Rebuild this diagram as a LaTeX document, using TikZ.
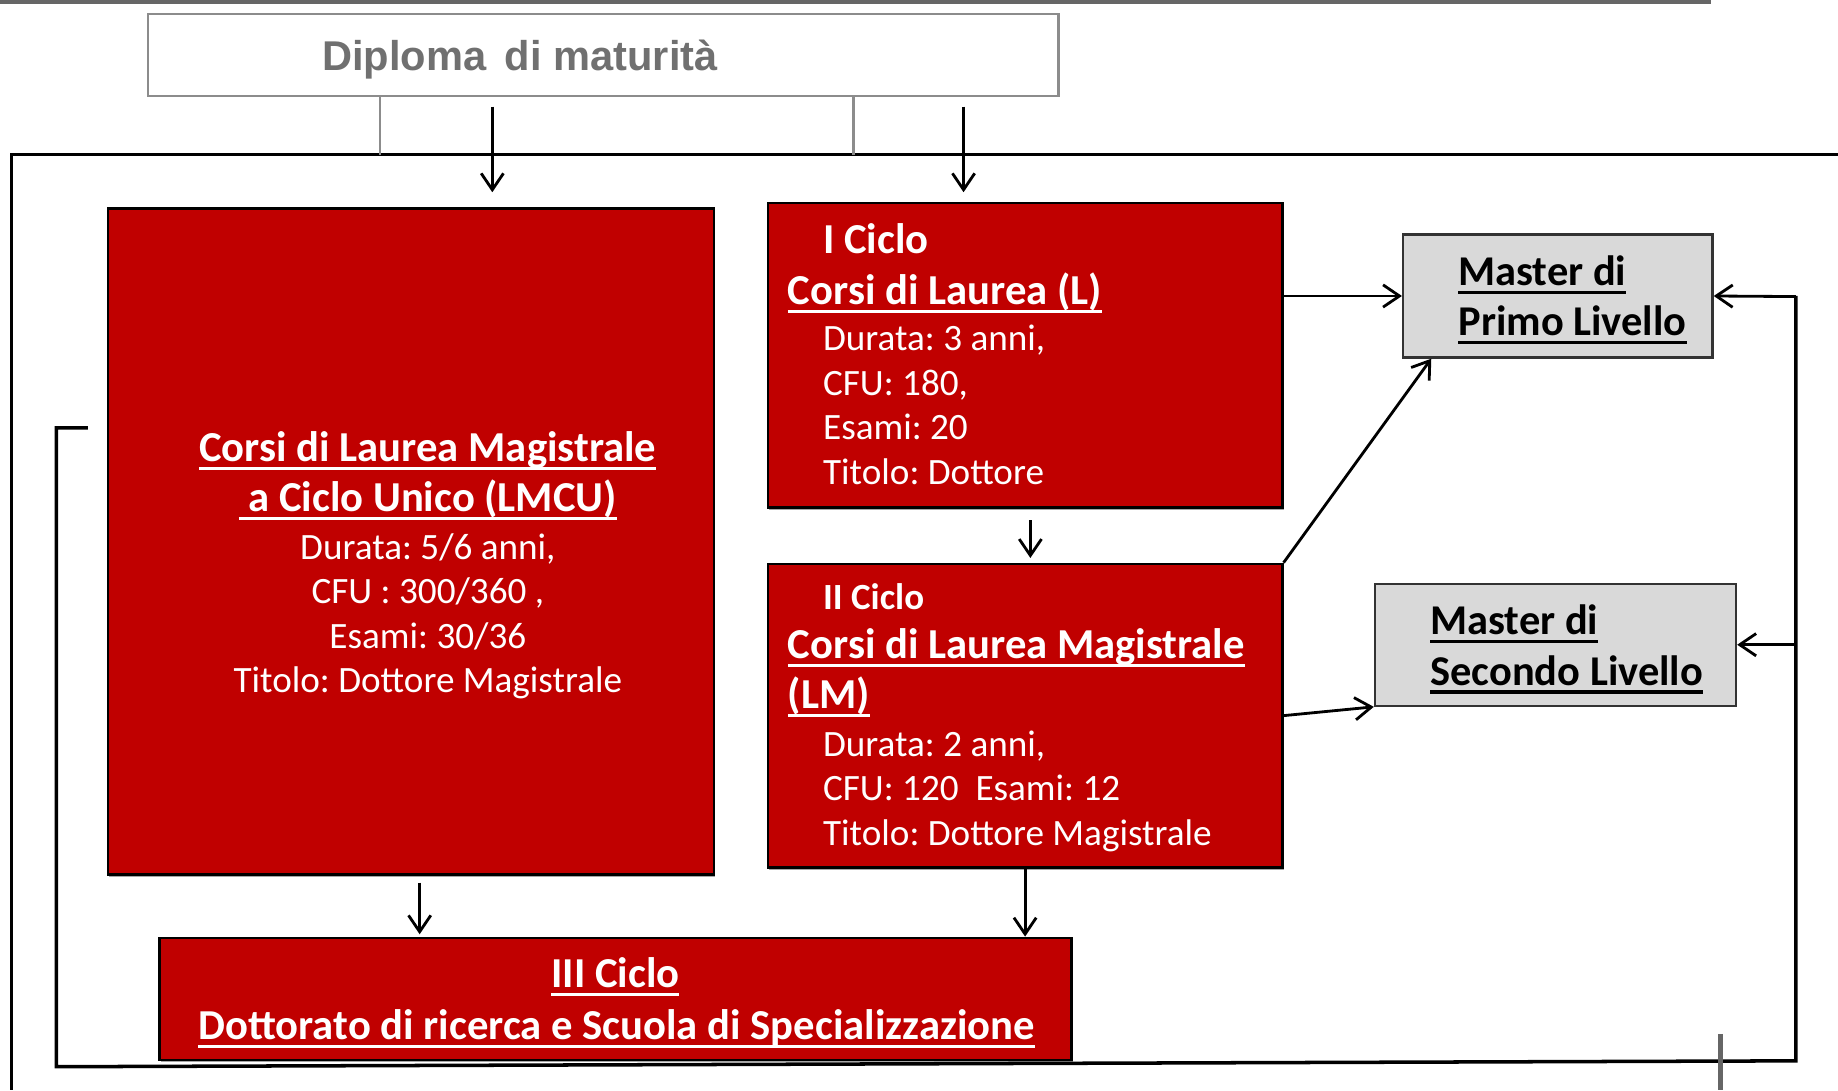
\documentclass[tikz,border=0pt]{standalone}
\usepackage{fontspec}
\setmainfont{Carlito}
\newfontfamily\dipfont{Liberation Sans}
\usetikzlibrary{arrows.meta,calc}
\definecolor{cred}{HTML}{C00000}
\definecolor{mgray}{HTML}{D9D9D9}
\definecolor{dgray}{HTML}{707070}
\definecolor{lgray}{HTML}{8C8C8C}
\newsavebox\ulbox
\newcommand\myul[1]{\sbox\ulbox{#1}\rlap{\rule[-0.2em]{\wd\ulbox}{0.075em}}\usebox\ulbox}
\frenchspacing
\begin{document}
\begin{tikzpicture}[x=1pt,y=-1pt,
  redbox/.style={draw=black,line width=2pt,fill=cred,inner sep=0pt,rectangle},
  mbox/.style={draw=black!80,line width=2pt,fill=mgray,inner sep=0pt,rectangle},
  shad/.style={fill=black!35,draw=none,inner sep=0pt,rectangle},
  wt/.style={text=white,inner sep=0pt,anchor=base west,font=\fontsize{31.7}{38}\selectfont},
  wh/.style={text=white,inner sep=0pt,anchor=base west,font=\fontsize{36.4}{43}\selectfont\bfseries},
  bt/.style={text=black,inner sep=0pt,anchor=base west,font=\fontsize{36.2}{43}\selectfont\bfseries},
  arr/.style={line width=2.4pt,-{Straight Barb[length=14pt,width=19pt]}},
  frame/.style={line width=2.5pt,black},
  gline/.style={line width=2pt,lgray}]
\useasboundingbox (0,0) rectangle (1568,930);

% top bar and frame
\draw[line width=4pt,black!60] (0,1.5) -- (1460,1.5);
\draw[frame] (1568,132) -- (10,132) -- (10,930);

% Diploma box
\node[draw=lgray,line width=2pt,fill=white,minimum width=777pt,minimum height=70pt,inner sep=0pt] (dip) at (514.5,47) {};
\node[anchor=base,inner sep=0pt,text=dgray,font=\dipfont\bfseries\fontsize{35.5}{42}\selectfont] (diptxt) at (443.5,60.5) {Diploma\hspace{0.45em}di maturità};

\coordinate (g1) at (324,132);
\coordinate (g2) at (728,132);
\draw[gline] (dip.south -| g1) -- (g1);
\draw[gline] (dip.south -| g2) -- (g2);

% shadows
\node[shad,minimum width=517pt,minimum height=568pt] (slmcu) at (351.5,464) {};
\node[shad,minimum width=439pt,minimum height=260pt] (sicl) at (875.5,305) {};
\node[shad,minimum width=439pt,minimum height=259pt] (siicl) at (875.5,612.5) {};
\node[shad,minimum width=778pt,minimum height=104pt] (siii) at (526,854) {};

% boxes
\node[redbox,minimum width=517pt,minimum height=568pt] (lmcu) at (350.5,462) {};
\node[redbox,minimum width=439pt,minimum height=260pt] (icl) at (874.5,303) {};
\node[redbox,minimum width=439pt,minimum height=259pt] (iicl) at (874.5,610.5) {};
\node[redbox,minimum width=778pt,minimum height=104pt] (iii) at (525,852) {};
\node[mbox,minimum width=264pt,minimum height=105pt] (mp) at (1329,252.5) {};
\node[mbox,minimum width=308pt,minimum height=104pt] (ms) at (1327,550) {};

% arrows from diploma
\draw[arr] ($(dip.south west)+(295,8)$) -- ($(lmcu.north west)+(329,-13)$);
\draw[arr] ($(dip.south west)+(697,8)$) -- ($(icl.north west)+(168,-8)$);

% LMCU text
\node[wh,anchor=base] (a1) at (365,393.5) {\myul{Corsi di Laurea Magistrale}};
\node[wh,anchor=base] (a2) at (365,436.5) {\myul{\ a Ciclo Unico (LMCU)}};
\node[wt,anchor=base] (a3) at (365,477) {Durata: 5/6 anni,};
\node[wt,anchor=base] (a4) at (365,515) {CFU : 300/360 ,};
\node[wt,anchor=base] (a5) at (365,553) {Esami: 30/36};
\node[wt,anchor=base] (a6) at (365,591) {Titolo: Dottore Magistrale};

% I Ciclo text
\node[wh] (b1) at (702,216.5) {I Ciclo};
\node[wh] (b2) at (672,259.5) {\myul{Corsi di Laurea (L)}};
\node[wt] (b3) at (702,299) {Durata: 3 anni,};
\node[wt] (b4) at (702,337) {CFU: 180,};
\node[wt] (b5) at (702,375) {Esami: 20};
\node[wt] (b6) at (702,413) {Titolo: Dottore};

% II Ciclo text
\node[wh,font=\fontsize{31.5}{38}\selectfont\bfseries] (c1) at (702,520) {II Ciclo};
\node[wh] (c2) at (672,561.5) {\myul{Corsi di Laurea Magistrale}};
\node[wh] (c3) at (672,604.5) {\myul{(LM)}};
\node[wt] (c4) at (702,645) {Durata: 2 anni,};
\node[wt] (c5) at (702,683) {CFU: 120\ \ Esami: 12};
\node[wt] (c6) at (702,721) {Titolo: Dottore Magistrale};

% III Ciclo text
\node[wh,anchor=base] (d1) at (525,842.5) {\myul{III Ciclo}};
\node[wh,anchor=base] (d2) at (526,886.5) {\myul{Dottorato di ricerca e Scuola di Specializzazione}};

% Master text
\node[bt] (e1) at (1244,243.5) {\myul{Master di}};
\node[bt] (e2) at (1244,286.5) {\myul{Primo Livello}};
\node[bt] (f1) at (1220,541.5) {\myul{Master di}};
\node[bt] (f2) at (1220,584.5) {\myul{Secondo Livello}};

% connectors
\draw[arr] (icl.east |- mp.west) -- (mp.west);
\draw[arr] (iicl.north east) -- ($(mp.south west)+(25,0)$);
\draw[arr] (iicl.east) -- (ms.south west);
\draw[arr] ($(icl.south)+(4.5,10)$) -- ($(iicl.north)+(4.5,-4)$);
\draw[arr] ($(lmcu.south west)+(267,6)$) -- ($(iii.north west)+(223,-2)$);
\draw[arr] (iicl.south) -- (iicl.south |- iii.north);

% loop
\coordinate (ls) at (75,365);
\coordinate (lb1) at (48,365);
\coordinate (lb2) at (48,910);
\coordinate (lb3) at (1532,905);
\coordinate (lb4) at (1532,253);
\coordinate (lb5) at (1532,550);
\draw[line width=3pt] (ls) -- (lb1) -- (lb2) -- (lb3) -- (lb4) -- (mp.east -| lb4);
\draw[arr] (lb4) -- (mp.east);
\draw[arr] (lb5) -- (ms.east);

% gray tick
\draw[line width=4pt,black!60] (1468,882) -- (1468,930);
\end{tikzpicture}
\end{document}
